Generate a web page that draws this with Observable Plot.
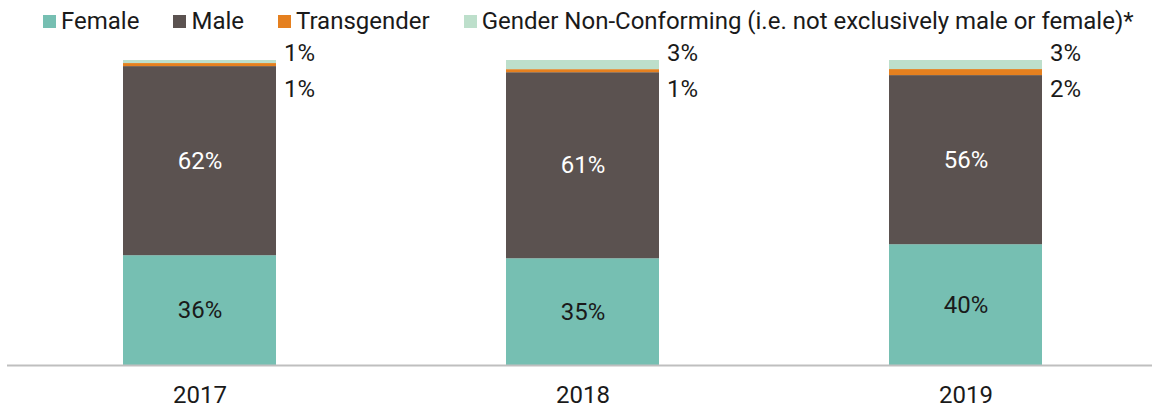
<!DOCTYPE html>
<html><head><meta charset="utf-8">
<script src="https://cdn.jsdelivr.net/npm/d3@7"></script>
<script src="https://cdn.jsdelivr.net/npm/@observablehq/plot@0.6"></script>
<style>
body{margin:0;background:#fff;font-family:Roboto,sans-serif;}
#legend{height:40px;display:flex;align-items:center;padding-left:43px;padding-top:2px;font-size:24px;color:#1a1a1a;box-sizing:border-box;}
.item{display:flex;align-items:center;margin-right:34px;white-space:nowrap;}
.sw{width:13px;height:13px;margin-right:5px;flex:none;}
</style></head><body>
<div id="legend"></div>
<div id="chart"></div>
<script>
const years = ["2017", "2018", "2019"];
const categories = ["Female", "Male", "Transgender", "Gender Non-Conforming (i.e. not exclusively male or female)*"];
const colors = ["#76bfb2", "#5b5250", "#e5801f", "#bddfcb"];
const female = [36, 35, 40];
const male = [62, 61, 56];
const transgender = [1, 1, 2];
const gnc = [1, 3, 3];

const series = [female, male, transgender, gnc];
const data = [];
categories.forEach((c, ci) => years.forEach((y, yi) => data.push({year: y, cat: c, value: series[ci][yi]})));

// legend
const leg = document.getElementById("legend");
categories.forEach((c, i) => {
  const it = document.createElement("div"); it.className = "item";
  const sw = document.createElement("span"); sw.className = "sw"; sw.style.background = colors[i];
  const t = document.createElement("span"); t.textContent = c;
  it.appendChild(sw); it.appendChild(t); leg.appendChild(it);
});

const stackOpts = {offset: "normalize", order: categories};
const chart = Plot.plot({
  width: 1152,
  height: 369,
  marginTop: 20,
  marginBottom: 44,
  marginLeft: 7,
  marginRight: 0,
  style: {fontFamily: "Roboto, sans-serif", fontSize: "24px", color: "#1a1a1a", background: "#fff"},
  x: {domain: years, paddingInner: 0.6, paddingOuter: 0.291, align: 0.515, label: null},
  y: {domain: [0, 1], axis: null},
  color: {domain: categories, range: colors},
  marks: [
    Plot.barY(data, Plot.stackY(stackOpts, {x: "year", y: "value", fill: "cat"})),
    Plot.text(data, Plot.stackY(stackOpts, {x: "year", y: "value", z: "cat",
      text: d => d.cat === "Female" ? d.value + "%" : "", fill: "#1a1a1a", fontSize: 24})),
    Plot.text(data, Plot.stackY(stackOpts, {x: "year", y: "value", z: "cat",
      text: d => d.cat === "Male" ? d.value + "%" : "", fill: "#ffffff", fontSize: 24})),
    Plot.text(data.filter(d => d.cat === categories[3]), {x: "year", y: () => 1,
      text: d => d.value + "%", textAnchor: "start", dx: 84, dy: -7, fill: "#1a1a1a", fontSize: 24}),
    Plot.text(data.filter(d => d.cat === categories[2]), {x: "year", y: () => 1,
      text: d => d.value + "%", textAnchor: "start", dx: 84, dy: 29, fill: "#1a1a1a", fontSize: 24}),
    Plot.ruleY([0], {stroke: "#bfbfbf", strokeWidth: 2}),
    Plot.axisX({tickSize: 0, tickPadding: 20, fontSize: 24, label: null})
  ]
});
document.getElementById("chart").appendChild(chart);
</script>
</body></html>
